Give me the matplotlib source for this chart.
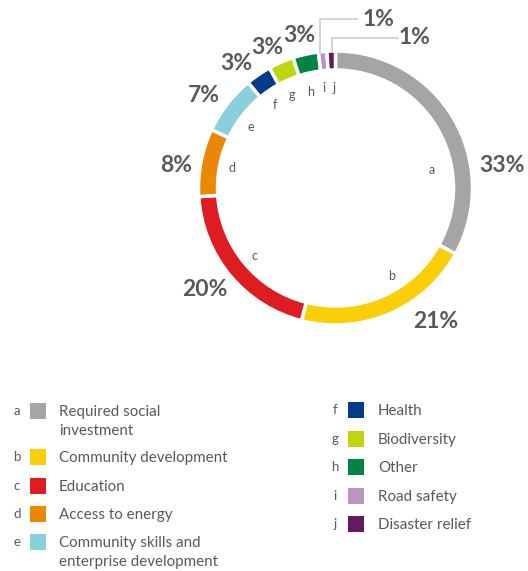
import matplotlib.pyplot as plt
from matplotlib.patches import Rectangle

letters = ['a', 'b', 'c', 'd', 'e', 'f', 'g', 'h', 'i', 'j']
values = [33, 21, 20, 8, 7, 3, 3, 3, 1, 1]
names = ['Required social\ninvestment', 'Community development', 'Education',
         'Access to energy', 'Community skills and\nenterprise development',
         'Health', 'Biodiversity', 'Other', 'Road safety', 'Disaster relief']
colors = ['#a5a5a5', '#fbce07', '#dd1d21', '#eb8705', '#89cfdc',
          '#003c88', '#bed50f', '#008443', '#ba95be', '#641964']

W, H = 528, 571
TXT = '#595959'
plt.rcParams['font.family'] = ['Lato', 'DejaVu Sans']

fig = plt.figure(figsize=(W / 100, H / 100), dpi=100)
ax = fig.add_axes([0, 0, 1, 1])

def py(y):
    # pixel row (from top) -> data y
    return H - y

cx, cy, R = 335.5, 188, 137
ax.pie(values, colors=colors, startangle=90, counterclock=False,
       center=(cx, py(cy)), radius=R,
       wedgeprops=dict(width=19, edgecolor='white', linewidth=2.5))
ax.set_xlim(0, W)
ax.set_ylim(0, H)
ax.set_aspect('equal')
ax.axis('off')

# percentage labels (pixel positions, hand placed like the original)
pct_pos = [(502, 165), (436, 322), (205, 289), (176, 166), (204, 96),
           (236, 63), (267, 47), (299, 35), (378, 20), (415, 38)]
for v, (x, y) in zip(values, pct_pos):
    ax.text(x, py(y), f'{v}%', fontsize=16.5, fontweight='bold', color=TXT,
            ha='center', va='center')

# letter labels inside the ring
let_pos = [(432, 170), (392, 276), (255, 256), (232, 168), (251, 127),
           (275, 105), (292, 95), (311, 92), (324, 88), (334, 88)]
for l, (x, y) in zip(letters, let_pos):
    ax.text(x, py(y), l, fontsize=9, color=TXT, ha='center', va='center')

# leader lines for the two small slices
lc = '#cccccc'
ax.plot([320, 320, 357], [py(52), py(19), py(19)], color=lc, lw=1.2)
ax.plot([332, 332, 398], [py(52), py(38), py(38)], color=lc, lw=1.2)

# legend
rows_left = [411, 457, 486, 514, 542]
rows_right = [410, 439, 467, 496, 524]
for i in range(10):
    if i < 5:
        lx, bx, tx, y = 17, 30, 59, rows_left[i]
    else:
        lx, bx, tx, y = 335, 348, 378, rows_right[i - 5]
    ax.text(lx, py(y), letters[i], fontsize=9.5, color=TXT, ha='center', va='center')
    ax.add_patch(Rectangle((bx, py(y) - 8), 16, 16, color=colors[i], lw=0))
    ax.text(tx, py(y) + 6, names[i], fontsize=10.9, color=TXT, ha='left', va='top',
            linespacing=1.45)

fig.savefig('out.png', dpi=100)
